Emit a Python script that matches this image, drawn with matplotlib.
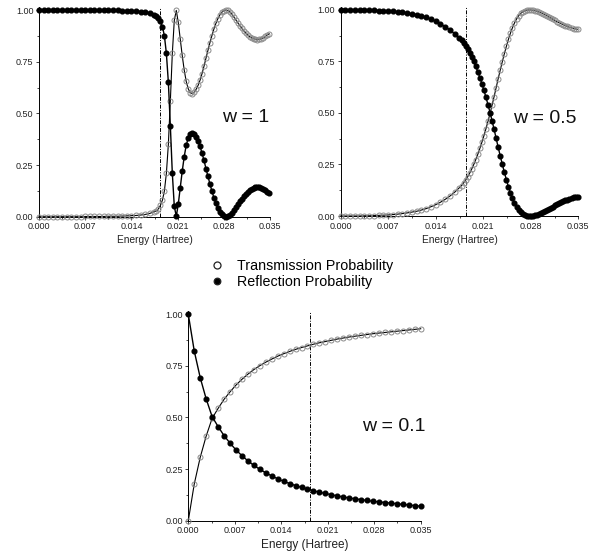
import matplotlib
matplotlib.use("Agg")
import matplotlib.pyplot as plt
import numpy as np
from matplotlib.ticker import MultipleLocator, FormatStrFormatter

plt.rcParams['font.family'] = ['Liberation Sans', 'DejaVu Sans']

# energy grids in Hartree: coarse steps below the barrier, fine steps above it
energy_wide = np.concatenate([np.arange(0, 0.0176, 0.0007), np.arange(0.0178, 0.0350, 0.0003)])
energy_narrow = np.linspace(0, 0.035, 40)
barrier_energy = 0.0184

# w = 1
refl_w1 = [1.000, 1.000, 1.000, 1.000, 1.000, 1.000, 1.000, 1.000, 1.000, 1.000,
           0.999, 0.999, 0.999, 0.999, 0.999, 0.998, 0.998, 0.998, 0.997, 0.996,
           0.995, 0.994, 0.992, 0.989, 0.984, 0.975,
           0.972, 0.962, 0.945, 0.920, 0.875, 0.790, 0.650, 0.440, 0.210, 0.050,
           0.002, 0.060, 0.140, 0.220, 0.290, 0.345, 0.380, 0.400, 0.405, 0.398,
           0.384, 0.365, 0.340, 0.308, 0.272, 0.233, 0.195, 0.158, 0.124, 0.092,
           0.065, 0.042, 0.024, 0.011, 0.003, 0.000, 0.002, 0.009, 0.020, 0.033,
           0.047, 0.061, 0.075, 0.088, 0.100, 0.111, 0.121, 0.129, 0.135, 0.139,
           0.142, 0.143, 0.142, 0.139, 0.134, 0.128, 0.121, 0.114]
trans_w1 = [0.000, 0.000, 0.000, 0.000, 0.000, 0.000, 0.000, 0.000, 0.000, 0.000,
            0.001, 0.001, 0.001, 0.001, 0.001, 0.002, 0.002, 0.002, 0.003, 0.004,
            0.005, 0.006, 0.008, 0.011, 0.016, 0.025,
            0.028, 0.038, 0.055, 0.080, 0.125, 0.210, 0.350, 0.560, 0.790, 0.950,
            0.998, 0.940, 0.860, 0.780, 0.710, 0.655, 0.620, 0.600, 0.595, 0.602,
            0.616, 0.635, 0.660, 0.692, 0.728, 0.767, 0.805, 0.842, 0.876, 0.908,
            0.935, 0.958, 0.976, 0.989, 0.997, 1.000, 0.998, 0.991, 0.980, 0.967,
            0.953, 0.939, 0.925, 0.912, 0.900, 0.889, 0.879, 0.871, 0.865, 0.861,
            0.858, 0.857, 0.858, 0.861, 0.866, 0.872, 0.879, 0.886]

# w = 0.5
refl_w05 = [1.000, 1.000, 1.000, 1.000, 1.000, 0.999, 0.999, 0.998, 0.997, 0.996,
            0.995, 0.993, 0.991, 0.988, 0.985, 0.981, 0.977, 0.971, 0.964, 0.955,
            0.945, 0.933, 0.919, 0.903, 0.884, 0.862,
            0.852, 0.840, 0.826, 0.810, 0.792, 0.772, 0.750, 0.726, 0.700, 0.672,
            0.642, 0.610, 0.576, 0.540, 0.502, 0.462, 0.420, 0.377, 0.333, 0.292,
            0.252, 0.213, 0.177, 0.143, 0.113, 0.086, 0.063, 0.044, 0.029, 0.017,
            0.009, 0.004, 0.001, 0.000, 0.000, 0.001, 0.003, 0.006, 0.010, 0.014,
            0.019, 0.024, 0.029, 0.035, 0.040, 0.046, 0.051, 0.057, 0.062, 0.067,
            0.072, 0.076, 0.080, 0.084, 0.087, 0.090, 0.092, 0.094]
trans_w05 = [0.000, 0.000, 0.000, 0.000, 0.000, 0.001, 0.001, 0.002, 0.003, 0.004,
             0.005, 0.007, 0.009, 0.012, 0.015, 0.019, 0.023, 0.029, 0.036, 0.045,
             0.055, 0.067, 0.081, 0.097, 0.116, 0.138,
             0.148, 0.160, 0.174, 0.190, 0.208, 0.228, 0.250, 0.274, 0.300, 0.328,
             0.358, 0.390, 0.424, 0.460, 0.498, 0.538, 0.580, 0.623, 0.667, 0.708,
             0.748, 0.787, 0.823, 0.857, 0.887, 0.914, 0.937, 0.956, 0.971, 0.983,
             0.991, 0.996, 0.999, 1.000, 1.000, 0.999, 0.997, 0.994, 0.990, 0.986,
             0.981, 0.976, 0.971, 0.965, 0.960, 0.954, 0.949, 0.943, 0.938, 0.933,
             0.928, 0.924, 0.920, 0.916, 0.913, 0.910, 0.908, 0.906]

# w = 0.1
refl_w01 = [1.000, 0.822, 0.693, 0.590, 0.504, 0.456, 0.412, 0.376, 0.343, 0.315,
            0.290, 0.268, 0.249, 0.232, 0.217, 0.203, 0.191, 0.180, 0.170, 0.161,
            0.153, 0.145, 0.138, 0.132, 0.126, 0.120, 0.115, 0.110, 0.106, 0.102,
            0.098, 0.094, 0.091, 0.088, 0.085, 0.082, 0.079, 0.076, 0.073, 0.070]
trans_w01 = [0.000, 0.178, 0.307, 0.410, 0.496, 0.544, 0.588, 0.624, 0.657, 0.685,
             0.710, 0.732, 0.751, 0.768, 0.783, 0.797, 0.809, 0.820, 0.830, 0.839,
             0.847, 0.855, 0.862, 0.868, 0.874, 0.880, 0.885, 0.890, 0.894, 0.898,
             0.902, 0.906, 0.909, 0.912, 0.915, 0.918, 0.921, 0.924, 0.927, 0.930]

W, H = 609, 559
fig = plt.figure(figsize=(W / 100, H / 100), dpi=100)


def px_axes(x0, x1, y_top, y_bot):
    return fig.add_axes([x0 / W, 1 - y_bot / H, (x1 - x0) / W, (y_bot - y_top) / H])


def draw_panel(ax, energy, trans, refl, label, label_pos, xlabel_size):
    t_line, = ax.plot(energy, trans, color='black', lw=0.8, marker='o', ms=3.6,
                      mfc='none', mec='#8a8a8a', mew=0.7, clip_on=False, zorder=3)
    r_line, = ax.plot(energy, refl, color='black', lw=1.0, marker='o', ms=3.4,
                      mfc='black', mec='black', clip_on=False, zorder=4)
    ax.axvline(barrier_energy, color='black', lw=0.7, dashes=(4, 1.5, 1, 1.5), zorder=2)
    ax.set_xlim(0, 0.035)
    ax.set_ylim(0, 1.015)
    ax.xaxis.set_major_locator(MultipleLocator(0.007))
    ax.xaxis.set_minor_locator(MultipleLocator(0.0035))
    ax.yaxis.set_major_locator(MultipleLocator(0.25))
    ax.yaxis.set_minor_locator(MultipleLocator(0.125))
    ax.xaxis.set_major_formatter(FormatStrFormatter('%.3f'))
    ax.yaxis.set_major_formatter(FormatStrFormatter('%.2f'))
    ax.tick_params(which='major', direction='out', length=2.5, width=0.6,
                   labelsize=6.5, pad=1.5, colors='#222222')
    ax.tick_params(which='minor', direction='out', length=1.5, width=0.5)
    for side in ('top', 'right'):
        ax.spines[side].set_visible(False)
    for side in ('left', 'bottom'):
        ax.spines[side].set_linewidth(0.7)
    ax.set_xlabel('Energy (Hartree)', fontsize=xlabel_size, labelpad=3, color='#222222')
    ax.text(label_pos[0], label_pos[1], label, transform=ax.transAxes,
            ha='center', va='center', fontsize=14, color='#111111')
    return t_line, r_line


ax1 = px_axes(39, 270, 6.9, 216.7)
ax2 = px_axes(340.7, 578.3, 6.9, 216)
ax3 = px_axes(188.3, 420.7, 311.2, 520.7)

t_line, r_line = draw_panel(ax1, energy_wide, trans_w1, refl_w1, 'w = 1', (0.896, 0.475), 7.3)
draw_panel(ax2, energy_wide, trans_w05, refl_w05, 'w = 0.5', (0.86, 0.465), 7.3)
draw_panel(ax3, energy_narrow, trans_w01, refl_w01, 'w = 0.1', (0.885, 0.448), 8.5)

leg = fig.legend([t_line, r_line], ['Transmission Probability', 'Reflection Probability'],
                 loc='center left', bbox_to_anchor=(209.5 / W, 1 - 274.3 / H),
                 frameon=False, fontsize=10.3, handlelength=1.0, handletextpad=0.95,
                 labelspacing=0.15, borderpad=0, borderaxespad=0, markerscale=1.4)
for handle in leg.legend_handles:
    handle.set_linestyle('none')
    handle.set_markeredgecolor('#222222')
    handle.set_markeredgewidth(0.9)

fig.savefig('out.png', dpi=100)
